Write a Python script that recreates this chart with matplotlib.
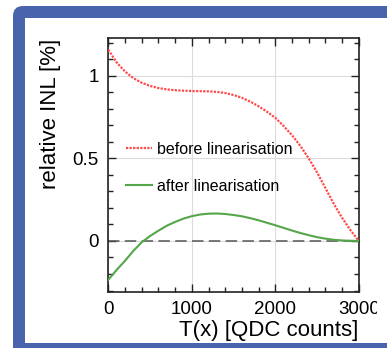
import matplotlib
matplotlib.use("Agg")
import matplotlib.pyplot as plt
from matplotlib.patches import FancyBboxPatch, Rectangle
from matplotlib.ticker import MultipleLocator

plt.rcParams['font.family'] = ['Liberation Sans', 'DejaVu Sans']

# data
t_counts = [0, 100, 200, 300, 400, 500, 600, 700, 800, 900, 1000,
            1100, 1200, 1300, 1400, 1500, 1600, 1700, 1800, 1900, 2000,
            2100, 2200, 2300, 2400, 2500, 2600, 2700, 2800, 2900, 3000]
inl_before = [1.157, 1.08, 1.025, 0.985, 0.957, 0.938, 0.925, 0.917, 0.912, 0.909, 0.907,
              0.906, 0.905, 0.902, 0.895, 0.883, 0.866, 0.843, 0.815, 0.782, 0.745,
              0.695, 0.64, 0.575, 0.50, 0.415, 0.32, 0.225, 0.14, 0.065, 0.0]
inl_after = [-0.235, -0.175, -0.12, -0.06, -0.008, 0.03, 0.062, 0.092, 0.115, 0.135, 0.15,
             0.16, 0.165, 0.166, 0.163, 0.157, 0.149, 0.138, 0.125, 0.11, 0.095,
             0.079, 0.063, 0.048, 0.035, 0.023, 0.014, 0.007, 0.003, 0.001, 0.0]
labels = ["before linearisation", "after linearisation"]

W, H = 387, 348
fig = plt.figure(figsize=(W / 100, H / 100), dpi=100)

# slide frame (blue border, white inside)
blue = "#4964ad"
frame = FancyBboxPatch((13, -60), 500, 342 + 60, boxstyle="round,pad=0,rounding_size=10",
                       transform=None, facecolor=blue, edgecolor="none", zorder=-2)
inner = Rectangle((25, 5), 500, 325, transform=None, facecolor="white",
                  edgecolor="none", zorder=-1)
fig.patches.extend([frame, inner])

ax = fig.add_axes([108.3 / W, 1 - 291.7 / H, 250.5 / W, 253.4 / H])
ax.set_facecolor("none")

ax.plot(t_counts, inl_before, linestyle=(0, (1, 0.6)), color="#ff4a4a", lw=1.6,
        label=labels[0], zorder=3)
ax.plot(t_counts, inl_after, color="#55a54a", lw=1.5, label=labels[1], zorder=3)
ax.axhline(0, color="#555555", lw=1.1, dashes=(7.5, 3.5), zorder=2)

ax.set_xlim(0, 3000)
ax.set_ylim(-0.307, 1.226)
ax.xaxis.set_major_locator(MultipleLocator(1000))
ax.xaxis.set_minor_locator(MultipleLocator(200))
ax.yaxis.set_major_locator(MultipleLocator(0.5))
ax.yaxis.set_minor_locator(MultipleLocator(0.1))
ax.yaxis.set_major_formatter(plt.FuncFormatter(lambda v, p: "%g" % v))
ax.grid(True, which="major", color="#dcdcdc", lw=0.8, zorder=1)
ax.tick_params(which="both", direction="in", top=True, right=True, labelsize=13.5,
               width=1.0, color="#222222")
ax.tick_params(which="major", length=6, pad=7)
ax.tick_params(which="minor", length=3.5)
for s in ax.spines.values():
    s.set_linewidth(1.2)
    s.set_color("#222222")

ax.set_xlabel("T(x) [QDC counts]", fontsize=16, loc="right", labelpad=1)
ax.set_ylabel("relative INL [%]", fontsize=16, loc="top", labelpad=8)

ax.legend(loc="upper left", bbox_to_anchor=(0.072, 0.592), frameon=False, fontsize=11.5,
          handlelength=1.6, handletextpad=0.3, labelspacing=1.4, borderpad=0,
          borderaxespad=0)

# the reference is cropped just past the last tick label
fig.patches.append(Rectangle((377, 28), 20, 24, transform=None, facecolor="white",
                             edgecolor="none", zorder=10))

fig.savefig("out.png", dpi=100)
